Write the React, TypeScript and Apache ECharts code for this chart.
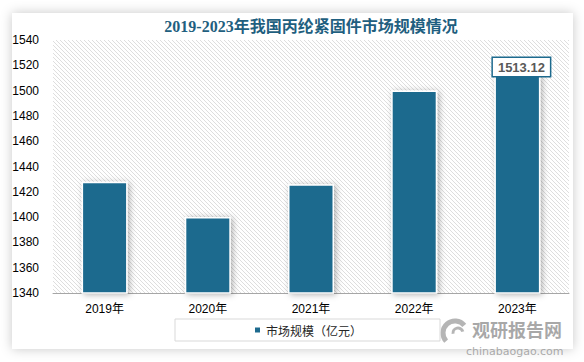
import React, { useEffect, useRef } from "react";
import * as echarts from "echarts";

const title = "2019-2023年我国丙纶紧固件市场规模情况";
const categories = ["2019年", "2020年", "2021年", "2022年", "2023年"];
const values = [1428, 1400, 1426, 1500, 1513.12];
const seriesName = "市场规模（亿元）";
const yMin = 1340;
const yMax = 1540;
const yStep = 20;

function makeHatch(): HTMLCanvasElement {
  const c = document.createElement("canvas");
  c.width = 4;
  c.height = 4;
  const ctx = c.getContext("2d")!;
  ctx.fillStyle = "#ffffff";
  ctx.fillRect(0, 0, 4, 4);
  ctx.fillStyle = "#dedede";
  for (let i = 0; i < 4; i++) ctx.fillRect(i, i, 1, 1);
  return c;
}

export default function App() {
  const ref = useRef<HTMLDivElement>(null);
  useEffect(() => {
    if (!ref.current) return;
    const chart = echarts.init(ref.current, null, { renderer: "svg" });
    const hatch = makeHatch();
    const barColor = "#1d6a8e";
    chart.setOption({
      animation: false,
      backgroundColor: "#ffffff",
      title: {
        text: title,
        left: 306,
        top: 13,
        textAlign: "center",
        textStyle: {
          fontFamily: "'Liberation Serif', 'Noto Sans CJK SC', serif",
          fontWeight: "bold",
          fontSize: 16,
          color: "#1f5f80",
        },
      },
      grid: {
        left: 53,
        right: 15,
        top: 40,
        bottom: 69,
        show: true,
        borderWidth: 0,
        backgroundColor: { image: hatch, repeat: "repeat" },
      },
      legend: {
        left: 175,
        top: 319,
        data: [seriesName],
        icon: "rect",
        itemWidth: 7,
        itemHeight: 7,
        itemGap: 0,
        borderColor: "#d9d9d9",
        borderWidth: 1,
        padding: [5, 78],
        textStyle: {
          fontSize: 12,
          color: "#262626",
          fontFamily: "'Noto Sans CJK SC', sans-serif",
        },
      },
      xAxis: {
        type: "category",
        data: categories,
        axisLine: { show: true, lineStyle: { color: "#a6a6a6", width: 1 } },
        axisTick: { show: false },
        axisLabel: {
          margin: 10,
          fontSize: 12,
          color: "#000000",
          fontFamily: "'Liberation Sans', 'Noto Sans CJK SC', sans-serif",
        },
      },
      yAxis: {
        type: "value",
        min: yMin,
        max: yMax,
        interval: yStep,
        axisLine: { show: false },
        axisTick: { show: false },
        splitLine: { show: false },
        axisLabel: {
          margin: 14,
          fontSize: 12,
          color: "#000000",
          fontFamily: "'Liberation Sans', sans-serif",
          formatter: (v: number) => String(v),
        },
      },
      series: [
        {
          name: seriesName,
          type: "bar",
          data: values.map((v, i) =>
            i === values.length - 1
              ? {
                  value: v,
                  label: {
                    show: true,
                    position: "top",
                    distance: 0,
                    offset: [4, 2],
                    formatter: (p: any) => p.value.toFixed(2),
                    backgroundColor: "#ffffff",
                    borderColor: barColor,
                    borderWidth: 1.5,
                    padding: [3, 5, 2, 5],
                    fontSize: 13,
                    fontWeight: "bold",
                    color: "#595959",
                    fontFamily: "'Liberation Sans', sans-serif",
                  },
                }
              : v
          ),
          barWidth: 46,
          itemStyle: {
            color: barColor,
            borderColor: "#ffffff",
            borderWidth: 1.5,
            shadowBlur: 6,
            shadowColor: "rgba(0,0,0,0.3)",
            shadowOffsetX: 2,
            shadowOffsetY: 1,
          },
        },
      ],
      graphic: [
        {
          type: "rect",
          z: -10,
          silent: true,
          shape: { x: 0, y: 0, width: 584, height: 362 },
          style: { fill: "#ffffff" },
        },
        {
          type: "rect",
          z: -9,
          silent: true,
          shape: { x: 12, y: 13, width: 561, height: 336 },
          style: {
            fill: "#ffffff",
            shadowBlur: 12,
            shadowColor: "rgba(0,0,0,0.22)",
            shadowOffsetX: 0,
            shadowOffsetY: 0,
          },
        },
        {
          type: "group",
          z: 100,
          silent: true,
          children: [
            {
              type: "arc",
              shape: { cx: 455, cy: 333, r: 12, startAngle: 2.4, endAngle: 5.6 },
              style: { stroke: "rgba(150,150,150,0.7)", lineWidth: 5, fill: "none" },
            },
            {
              type: "arc",
              shape: { cx: 458, cy: 333, r: 5, startAngle: 3.0, endAngle: 6.0 },
              style: { stroke: "rgba(150,150,150,0.7)", lineWidth: 3, fill: "none" },
            },
            {
              type: "text",
              x: 472,
              y: 320,
              style: {
                text: "观研报告网",
                font: "bold 18px 'Noto Sans CJK SC', sans-serif",
                fill: "rgba(140,140,140,0.75)",
                textVerticalAlign: "top",
              },
            },
            {
              type: "text",
              x: 466,
              y: 346,
              style: {
                text: "chinabaogao.com",
                font: "11px 'DejaVu Sans', sans-serif",
                fill: "rgba(150,150,150,0.8)",
                textVerticalAlign: "top",
              },
            },
          ],
        },
      ],
    });
    return () => chart.dispose();
  }, []);
  return (
    <div
      ref={ref}
      style={{ position: "fixed", left: 0, top: 0, width: 584, height: 362 }}
    />
  );
}
